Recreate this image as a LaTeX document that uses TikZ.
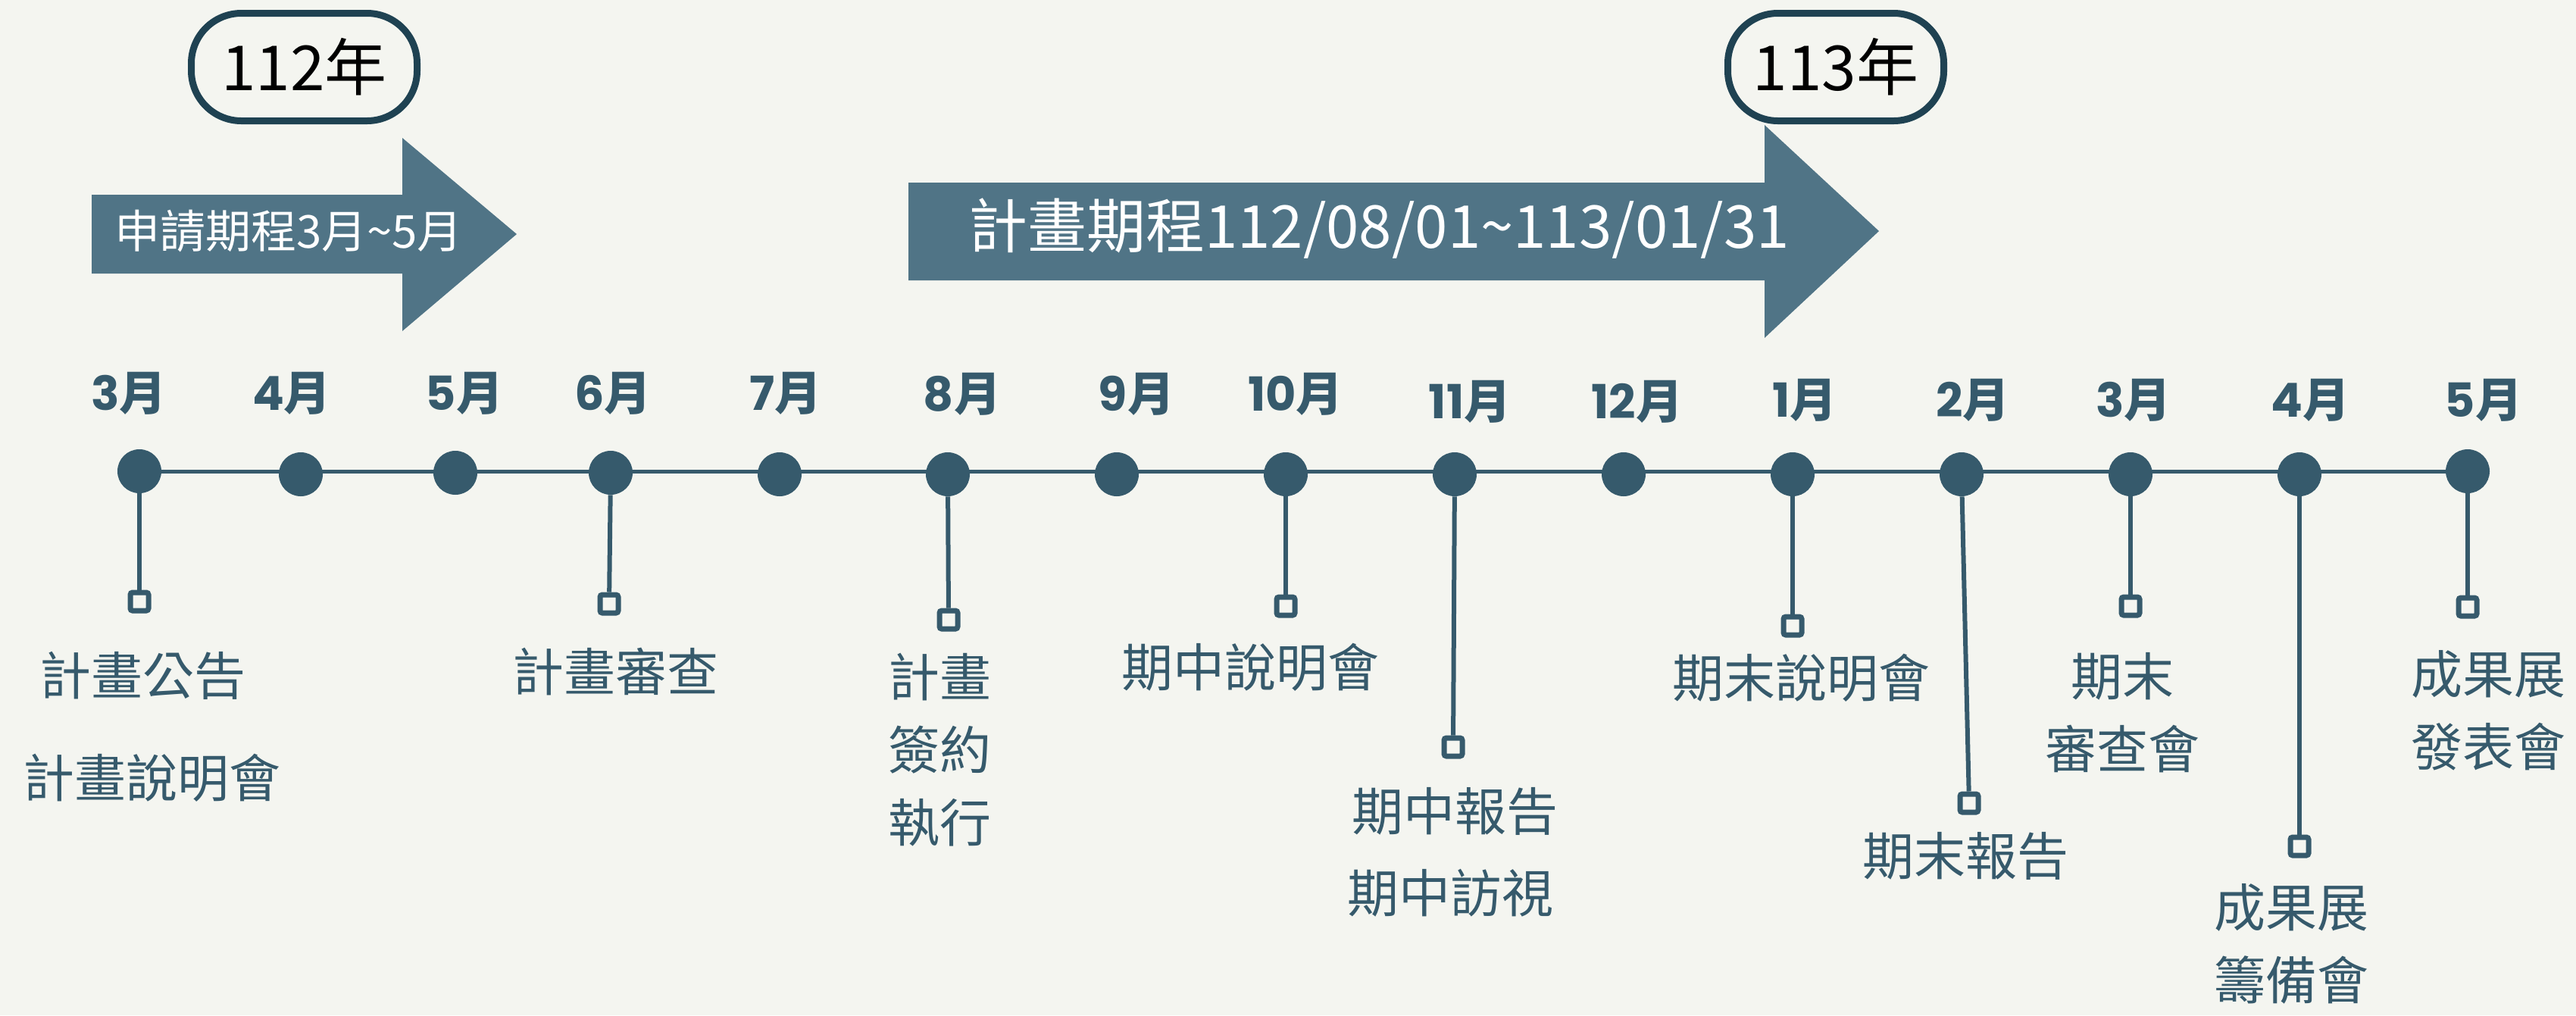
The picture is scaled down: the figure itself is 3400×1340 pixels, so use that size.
\documentclass[tikz,border=0pt]{standalone}
\usepackage{fontspec}
\setmainfont{Noto Sans CJK TC}
\newfontfamily\popfont{Poppins}
\definecolor{bg}{RGB}{244,245,240}
\definecolor{tl}{RGB}{54,90,108}
\definecolor{arrowc}{RGB}{80,116,134}
\definecolor{boxc}{RGB}{31,66,82}
\begin{document}
\begin{tikzpicture}[x=0.5pt,y=-0.5pt,
  dot/.style={circle,fill=tl,minimum size=29pt,inner sep=0pt},
  sq/.style={draw=tl,fill=bg,line width=3.5pt,minimum size=12pt,inner sep=0pt,rounded corners=1.5pt},
  mon/.style={text=tl,font=\fontsize{31}{31}\selectfont\bfseries,inner sep=0pt},
  lab/.style={text=tl,font=\fontsize{34}{48}\selectfont,inner sep=0pt,align=center},
  stem/.style={draw=tl,line width=3pt},
  year/.style={draw=boxc,line width=4.5pt,fill=bg,rounded corners=33pt,minimum height=71pt,inner sep=0pt,text=black,font=\fontsize{41}{41}\selectfont},
  arr/.style={fill=arrowc},
  arrtext/.style={text=white,inner sep=0pt}]
\useasboundingbox[fill=bg] (0,0) rectangle (3400,1340);

% year boxes
\node[year,minimum width=149pt] (y112) at (401.5,88.5) {112年};
\node[year,minimum width=142.5pt] (y113) at (2423,88.5) {113年};

% arrows
\fill[arr] (121,257) -- (531,257) -- (531,182) -- (682,309) -- (531,437) -- (531,361) -- (121,361) -- cycle;
\node[arrtext,font=\fontsize{30}{30}\selectfont] (a1) at (381,305) {申請期程3月\textasciitilde 5月};
\fill[arr] (1199,241) -- (2329,241) -- (2329,165) -- (2480,305) -- (2329,446) -- (2329,370) -- (1199,370) -- cycle;
\node[arrtext,font=\fontsize{39}{39}\selectfont] (a2) at (1820,302) {計畫期程112/08/01\textasciitilde 113/01/31};

% timeline
\coordinate (l1) at (184,622);
\coordinate (l2) at (3257,622);
\draw[tl,line width=2.5pt] (l1) -- (l2);

\node[dot] (d1) at (184,622) {};
\node[dot] (d2) at (397,626) {};
\node[dot] (d3) at (601,624) {};
\node[dot] (d4) at (806,624) {};
\node[dot] (d5) at (1029,626) {};
\node[dot] (d6) at (1251,626) {};
\node[dot] (d7) at (1474,626) {};
\node[dot] (d8) at (1697,626) {};
\node[dot] (d9) at (1920,626) {};
\node[dot] (d10) at (2143,626) {};
\node[dot] (d11) at (2366,626) {};
\node[dot] (d12) at (2589,626) {};
\node[dot] (d13) at (2812,626) {};
\node[dot] (d14) at (3035,626) {};
\node[dot] (d15) at (3257,622) {};

% month labels
\node[mon] (m1) at (170,519) {{\popfont 3}月};
\node[mon] (m2) at (385,519) {{\popfont 4}月};
\node[mon] (m3) at (613,519) {{\popfont 5}月};
\node[mon] (m4) at (809,519) {{\popfont 6}月};
\node[mon] (m5) at (1037,519) {{\popfont 7}月};
\node[mon] (m6) at (1270,520) {{\popfont 8}月};
\node[mon] (m7) at (1500,520) {{\popfont 9}月};
\node[mon] (m8) at (1710,520) {{\popfont 10}月};
\node[mon] (m9) at (1940,530) {{\popfont 11}月};
\node[mon] (m10) at (2161,530) {{\popfont 12}月};
\node[mon] (m11) at (2382,528) {{\popfont 1}月};
\node[mon] (m12) at (2604,528) {{\popfont 2}月};
\node[mon] (m13) at (2816,528) {{\popfont 3}月};
\node[mon] (m14) at (3049,528) {{\popfont 4}月};
\node[mon] (m15) at (3278,528) {{\popfont 5}月};

% squares
\node[sq] (s1) at (184,794) {};
\node[sq] (s4) at (804,797) {};
\node[sq] (s6) at (1252,818) {};
\node[sq] (s8) at (1697,800) {};
\node[sq] (s9) at (1918,986) {};
\node[sq] (s11) at (2366,826) {};
\node[sq] (s12) at (2599,1060) {};
\node[sq] (s13) at (2812,800) {};
\node[sq] (s14) at (3035,1117) {};
\node[sq] (s15) at (3257,801) {};

% stems
\draw[stem] (d1) -- (s1);
\draw[stem] (d4) -- (s4);
\draw[stem] (d6) -- (s6);
\draw[stem] (d8) -- (s8);
\draw[stem] (d9) -- (s9);
\draw[stem] (d11) -- (s11);
\draw[stem] (d12) -- (s12);
\draw[stem] (d13) -- (s13);
\draw[stem] (d14) -- (s14);
\draw[stem] (d15) -- (s15);

% labels
\node[lab] (t1) at (188,892) {計畫公告};
\node[lab] (t2) at (200,1027) {計畫說明會};
\node[lab] (t3) at (812,886) {計畫審查};
\node[lab] (t4) at (1240,990) {計畫\\簽約\\執行};
\node[lab] (t5) at (1650,881) {期中說明會};
\node[lab] (t6) at (1920,1071) {期中報告};
\node[lab] (t7) at (1914,1179) {期中訪視};
\node[lab] (t8) at (2377,895) {期末說明會};
\node[lab] (t9) at (2594,1130) {期末報告};
\node[lab] (t10) at (2801,941) {期末\\審查會};
\node[lab] (t11) at (3024,1246) {成果展\\籌備會};
\node[lab] (t12) at (3284,938) {成果展\\發表會};
\end{tikzpicture}
\end{document}
